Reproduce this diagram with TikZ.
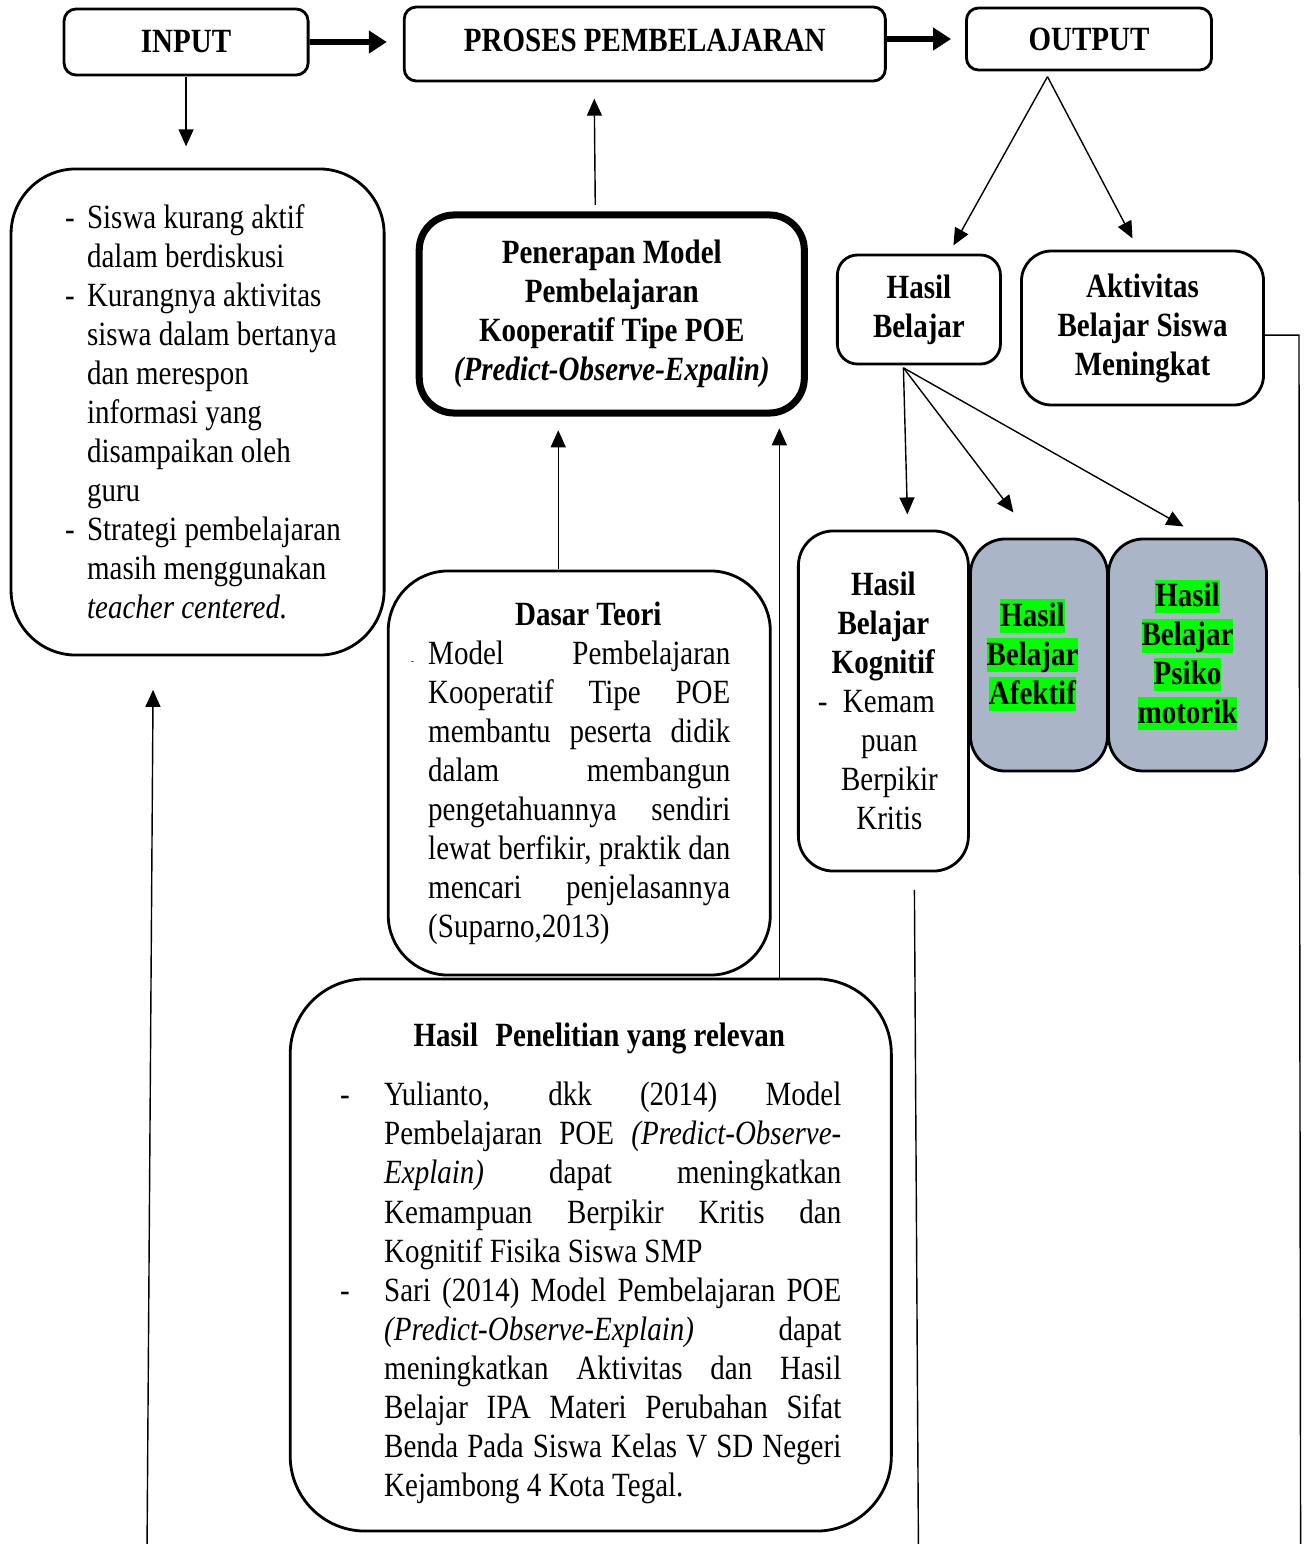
\documentclass[tikz,border=0pt]{standalone}
\usepackage{fontspec}
\setmainfont{Liberation Serif}
\usetikzlibrary{arrows.meta,calc}
\definecolor{boxgray}{RGB}{171,181,200}
\definecolor{hlgreen}{RGB}{0,255,0}
\newcommand{\mainsize}{\fontsize{16.5}{18.97}\selectfont}
\newcommand{\plainspaces}{\spaceskip=0pt\xspaceskip=0pt\relax}
\newcommand{\greenmark}[1]{{\setlength{\fboxsep}{0pt}\colorbox{hlgreen}{\rule[-0.2em]{0pt}{0.99em}#1}}}
\newcommand{\dashin}[1]{\makebox[#1][l]{-}}
\newcommand{\jline}[2]{{\plainspaces\makebox[#1][s]{#2}}}
\newcommand{\padright}[1]{\hspace*{#1}\null}

\begin{document}
\begin{tikzpicture}[x=0.02cm, y=-0.017094cm, yscale=1.17, transform shape,
    every node/.style={font=\mainsize},
    box/.style={draw, line width=1.6pt, rounded corners=#1, inner sep=0pt},
    box/.default=0.24cm,
    arrow/.style={line width=0.8pt, -{Triangle[length=0.34cm,width=0.3cm]}},
    bigarrow/.style={line width=3.2pt, -{Triangle[length=0.36cm,width=0.44cm]}},
    link/.style={line width=0.8pt}]

  \useasboundingbox (0,0) rectangle (1304,1544);

  % top row
  \node[box, minimum width=4.88cm, minimum height=1.128cm, font=\mainsize\bfseries] (input) at (186,42) {INPUT};
  \node[box, minimum width=9.62cm, minimum height=1.265cm, font=\mainsize\bfseries] (proses) at (644.5,44) {\raisebox{0.12cm}{PROSES PEMBELAJARAN}};
  \node[box, minimum width=4.9cm, minimum height=1.06cm, font=\mainsize\bfseries] (output) at (1088.5,39) {OUTPUT};

  \draw[bigarrow, shorten >=0.32cm] (input) -- (input -| proses.west);
  \draw[bigarrow, shorten >=0.28cm] (proses.east |- output) -- (output);

  % input side
  \node[box=1.3cm, minimum width=7.46cm, minimum height=8.308cm, text width=5.3cm, align=left] (masalah) at (197.5,412)
    {\plainspaces
     \dashin{0.44cm}\mbox{Siswa kurang aktif}\\
     \hspace*{0.44cm}\mbox{dalam berdiskusi}\\
     \dashin{0.44cm}\mbox{Kurangnya aktivitas}\\
     \hspace*{0.44cm}\mbox{siswa dalam bertanya}\\
     \hspace*{0.44cm}\mbox{dan merespon}\\
     \hspace*{0.44cm}\mbox{informasi yang}\\
     \hspace*{0.44cm}\mbox{disampaikan oleh}\\
     \hspace*{0.44cm}guru\\
     \dashin{0.44cm}\mbox{Strategi pembelajaran}\\
     \hspace*{0.44cm}\mbox{masih menggunakan}\\
     \hspace*{0.44cm}\mbox{\textit{teacher centered.}}};

  \draw[arrow, shorten >=0.42cm] (input.south) -- (input.south |- masalah.north);
  \coordinate (leftfoot) at (147,1544);
  \draw[arrow] (leftfoot) -- ($(masalah.south)+(-44.5,33)$);

  % process side
  \node[box=0.7cm, line width=4pt, minimum width=7.7cm, minimum height=3.385cm, align=center, font=\mainsize\bfseries] (penerapan) at (611.5,314)
    {Penerapan Model\\Pembelajaran\\Kooperatif Tipe POE\\\textit{(Predict-Observe-Expalin)}};

  \node[box=1.2cm, minimum width=7.64cm, minimum height=6.906cm, text width=6.72cm, align=left] (dasar) at (579,773)
    {\plainspaces
     \makebox[6.72cm]{\hspace*{0.36cm}\textbf{Dasar Teori}}\\
     \makebox[0.34cm][l]{\tiny -}\jline{6.04cm}{Model Pembelajaran}\\
     \hspace*{0.34cm}\jline{6.04cm}{Kooperatif Tipe POE}\\
     \hspace*{0.34cm}\jline{6.04cm}{membantu peserta didik}\\
     \hspace*{0.34cm}\jline{6.04cm}{dalam membangun}\\
     \hspace*{0.34cm}\jline{6.04cm}{pengetahuannya sendiri}\\
     \hspace*{0.34cm}\jline{6.04cm}{lewat berfikir, praktik dan}\\
     \hspace*{0.34cm}\jline{6.04cm}{mencari penjelasannya}\\
     \hspace*{0.34cm}(Suparno,2013)};

  \node[box=1.5cm, minimum width=12.02cm, minimum height=9.436cm, text width=10.02cm, align=left] (penelitian) at (590.5,1255)
    {\plainspaces
     \makebox[10.02cm]{\rule{0pt}{0.68cm}\hspace*{0.34cm}\textbf{Hasil\hspace{0.6em}Penelitian yang relevan}}\\[10pt]
     \dashin{0.88cm}\jline{9.14cm}{Yulianto, dkk (2014) Model}\\
     \hspace*{0.88cm}\jline{9.14cm}{Pembelajaran POE \textit{(Predict-Observe-}}\\
     \hspace*{0.88cm}\jline{9.14cm}{\textit{Explain)} dapat meningkatkan}\\
     \hspace*{0.88cm}\jline{9.14cm}{Kemampuan Berpikir Kritis dan}\\
     \hspace*{0.88cm}Kognitif Fisika Siswa SMP\\
     \dashin{0.88cm}\jline{9.14cm}{Sari (2014) Model Pembelajaran POE}\\
     \hspace*{0.88cm}\jline{9.14cm}{\textit{(Predict-Observe-Explain)} dapat}\\
     \hspace*{0.88cm}\jline{9.14cm}{meningkatkan Aktivitas dan Hasil}\\
     \hspace*{0.88cm}\jline{9.14cm}{Belajar IPA Materi Perubahan Sifat}\\
     \hspace*{0.88cm}\jline{9.14cm}{Benda Pada Siswa Kelas V SD Negeri}\\
     \hspace*{0.88cm}Kejambong 4 Kota Tegal.};

  \draw[arrow] ($(penerapan.north)+(-16.5,-6)$) -- ($(proses.south)+(-50.5,16)$);
  \draw[arrow] ($(dasar.north)+(-21,0)$) -- ($(penerapan.south)+(-53.5,13)$);
  \draw[arrow] ($(penelitian.north)+(188.5,0)$) -- ($(penerapan.south)+(167.5,11)$);

  % output side
  \node[box=0.4cm, minimum width=3.26cm, minimum height=1.863cm, align=center, font=\mainsize\bfseries] (hasil) at (918.5,309.5) {Hasil\\Belajar};
  \node[box=0.6cm, minimum width=4.84cm, minimum height=2.632cm, align=center, font=\mainsize\bfseries] (aktivitas) at (1142,328) {Aktivitas\\Belajar Siswa\\Meningkat};

  \coordinate (split) at ($(output.south)+(-41.5,5)$);
  \draw[arrow] (split) -- ($(hasil.north)+(34.5,-8)$);
  \draw[arrow] (split) -- ($(aktivitas.north)+(-10,-11)$);

  \node[box=0.7cm, minimum width=3.4cm, minimum height=5.812cm, align=center] (kognitif) at (883,701)
    {\textbf{Hasil}\\\textbf{Belajar}\\\textbf{Kognitif}\\\dashin{0.5cm}Kemam\padright{0.28cm}\\\hspace*{0.24cm}puan\\\hspace*{0.24cm}Berpikir\\\hspace*{0.24cm}Kritis};
  \node[box=0.7cm, fill=boxgray, minimum width=2.74cm, minimum height=3.966cm, align=center, font=\mainsize\bfseries] (afektif) at (1038.5,655)
    {\greenmark{Hasil}\padright{0.26cm}\\\greenmark{Belajar}\padright{0.26cm}\\\greenmark{Afektif}\padright{0.26cm}};
  \node[box=0.7cm, fill=boxgray, minimum width=3.16cm, minimum height=3.966cm, align=center, font=\mainsize\bfseries] (psiko) at (1187,655)
    {\greenmark{Hasil}\\\greenmark{Belajar}\\\greenmark{Psiko}\\\greenmark{motorik}};

  \coordinate (fork) at ($(hasil.south)+(-15.5,2)$);
  \draw[arrow] (fork) -- ($(kognitif.north)+(24,-15)$);
  \draw[arrow] (fork) -- ($(afektif.north)+(-25.5,-25)$);
  \draw[arrow] (fork) -- ($(psiko.north)+(-4,-11)$);

  \coordinate (midfoot) at (918,1544);
  \draw[link] ($(kognitif.south)+(31,17)$) -- (midfoot);
  \coordinate (rightfoot) at (1300,1544);
  \draw[link] ($(aktivitas.east)+(0,7)$) -- ++(34,0) -- (rightfoot);

\end{tikzpicture}
\end{document}
